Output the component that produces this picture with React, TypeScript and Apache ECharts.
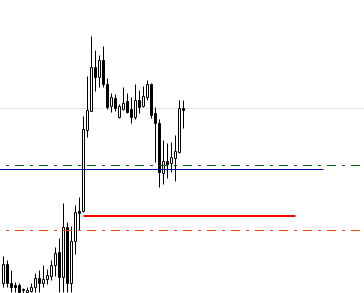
import React, { useEffect, useRef } from "react";
import * as echarts from "echarts";

// OHLC values (price units)
const opens = [10, 29, 10, 8, 8, 4, 1, 2, 6, 15, 10, 14, 17, 28, 41, 16, 66, 10, 52, 82, 82, 163, 182, 226, 216, 233, 209, 187, 195, 176, 184, 192, 184, 176, 193, 187, 196, 209, 180, 170, 120, 132, 130, 135, 141, 185];
const closes = [29, 10, 6, 6, 1, 3, 3, 6, 15, 10, 14, 18, 28, 40, 16, 66, 10, 52, 81, 80, 164, 183, 226, 216, 233, 209, 186, 196, 185, 187, 190, 181, 176, 193, 186, 197, 209, 178, 170, 121, 132, 129, 136, 142, 185, 183];
const lows = [6, 6, 1, 1, 0, 0, 0, 1, 1, 1, 6, 9, 13, 17, 1, 1, 1, 1, 39, 63, 81, 156, 182, 202, 206, 206, 184, 181, 182, 175, 183, 180, 170, 174, 180, 186, 193, 175, 131, 106, 109, 115, 121, 112, 140, 165];
const highs = [37, 33, 23, 11, 10, 5, 6, 10, 20, 23, 28, 24, 33, 46, 55, 90, 71, 67, 88, 96, 177, 217, 257, 243, 238, 247, 215, 200, 199, 189, 206, 200, 196, 209, 203, 207, 213, 210, 186, 174, 153, 150, 151, 158, 193, 193];

const slotCount = 90;
const categories = Array.from({ length: slotCount }, (_, i) => `${i}`);

// Horizontal levels: value and start/end slot
const bidLevel = 185;
const greenLevel = 128;
const blueLevel = 124;
const redLevel = 77.5;
const orangeLevel = 63;
const fullSpan = [-0.875, 90.125];
const blueSpan = [-0.875, 80];
const redSpan = [20, 73];

const dashDot = [9, 6, 3, 6];

function levelSeries(value: number, span: number[], color: string, width: number, type: any, z: number) {
  return {
    type: "line",
    xAxisIndex: 1,
    yAxisIndex: 1,
    data: [
      [span[0], value],
      [span[1], value],
    ],
    symbol: "none",
    silent: true,
    z,
    lineStyle: { color, width, type, dashOffset: 9, cap: "butt" },
  };
}

export default function App() {
  const ref = useRef<HTMLDivElement>(null);
  useEffect(() => {
    if (!ref.current) return;
    const chart = echarts.init(ref.current, undefined, { renderer: "svg" });
    chart.setOption({
      animation: false,
      backgroundColor: "#ffffff",
      grid: [
        { left: 1.5, right: 2.5, top: 0, bottom: 0, containLabel: false },
        { left: 0, right: 0, top: 0, bottom: 0, containLabel: false },
      ],
      xAxis: [
        { type: "category", gridIndex: 0, data: categories, show: false, boundaryGap: true },
        { type: "value", gridIndex: 1, min: -0.875, max: 90.125, show: false },
      ],
      yAxis: [
        { type: "value", gridIndex: 0, min: 0.5, max: 293.5, show: false, splitLine: { show: false } },
        { type: "value", gridIndex: 1, min: 0.5, max: 293.5, show: false, splitLine: { show: false } },
      ],
      series: [
        levelSeries(bidLevel, fullSpan, "#e2e2f8", 1, "solid", 1),
        {
          type: "candlestick",
          xAxisIndex: 0,
          yAxisIndex: 0,
          data: opens.map((o, i) => [o, closes[i], lows[i], highs[i]]),
          barWidth: 2,
          clip: false,
          z: 2,
          itemStyle: {
            color: "#ffffff",
            color0: "#000000",
            borderColor: "#000000",
            borderColor0: "#000000",
            borderColorDoji: "#000000",
            borderWidth: 1,
          },
        },
        levelSeries(greenLevel, fullSpan, "#006400", 1, dashDot, 3),
        levelSeries(blueLevel, blueSpan, "#00009c", 1, "solid", 3),
        levelSeries(redLevel, redSpan, "#ff0000", 2, "solid", 3),
        levelSeries(orangeLevel, fullSpan, "#ff4500", 1, dashDot, 3),
      ],
    });
    return () => chart.dispose();
  }, []);
  return (
    <div
      ref={ref}
      style={{ position: "fixed", left: 0, top: 0, width: 364, height: 293, background: "#fff" }}
    />
  );
}
